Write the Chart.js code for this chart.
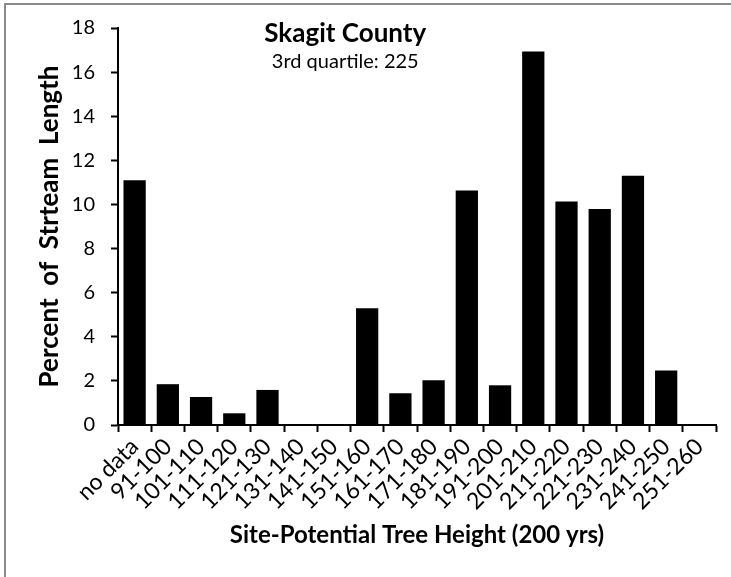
<!DOCTYPE html>
<html>
<head>
<meta charset="utf-8">
<title>Skagit County</title>
<script src="https://cdn.jsdelivr.net/npm/chart.js@4.4.1/dist/chart.umd.min.js"></script>
<style>
    html, body { margin: 0; padding: 0; background: #fff; overflow: hidden; }
    #wrap { position: relative; width: 731px; height: 577px; }
    #frame { position: absolute; left: 4px; top: 3px; width: 800px; height: 650px;
             border-left: 2px solid #8a8a8a; border-top: 2px solid #8a8a8a; pointer-events: none; }
</style>
</head>
<body>
<div id="wrap">
    <canvas id="heightChart" width="731" height="577"></canvas>
    <div id="frame"></div>
</div>
<script>
var categories = ['no data', '91-100', '101-110', '111-120', '121-130', '131-140', '141-150',
    '151-160', '161-170', '171-180', '181-190', '191-200', '201-210', '211-220',
    '221-230', '231-240', '241-250', '251-260'];
var percentValues = [11.1, 1.85, 1.27, 0.53, 1.59, 0, 0, 5.29, 1.44, 2.03, 10.63, 1.8,
    16.94, 10.13, 9.79, 11.3, 2.47, 0];
var yTicks = [0, 2, 4, 6, 8, 10, 12, 14, 16, 18];

var fontFamily = 'Lato, "Open Sans", sans-serif';

// heading sits inside the plot, over the empty middle bins
var headingPlugin = {
    id: 'heading',
    afterDraw: function(chart) {
        var ctx = chart.ctx;
        var area = chart.chartArea;
        var x = area.left + (area.right - area.left) * 0.38;
        ctx.save();
        ctx.fillStyle = '#000';
        ctx.textAlign = 'center';
        ctx.textBaseline = 'middle';
        ctx.font = 'bold 26px ' + fontFamily;
        ctx.fillText('Skagit County', x, area.top + 6);
        ctx.font = '20px ' + fontFamily;
        ctx.fillText('3rd quartile: 225', x, area.top + 34);
        ctx.restore();
    }
};

var ctx = document.getElementById('heightChart');
var heightChart = new Chart(ctx, {
    type: 'bar',
    data: {
        labels: categories,
        datasets: [{
            data: percentValues,
            backgroundColor: '#000',
            borderWidth: 0,
            barPercentage: 0.67,
            categoryPercentage: 1
        }]
    },
    options: {
        responsive: false,
        animation: false,
        layout: {
            padding: { left: 0, top: 27, right: 15, bottom: 0 }
        },
        scales: {
            x: {
                grid: {
                    offset: true,
                    drawOnChartArea: false,
                    color: '#000',
                    tickLength: 7,
                    tickWidth: 2
                },
                border: { color: '#000', width: 2 },
                ticks: {
                    color: '#000',
                    font: { family: fontFamily, size: 23 },
                    maxRotation: 45,
                    minRotation: 45,
                    padding: 1,
                    autoSkip: false
                },
                title: {
                    display: true,
                    text: 'Site-Potential Tree Height (200 yrs)',
                    color: '#000',
                    font: { family: fontFamily, size: 24, weight: 'bold' },
                    padding: { top: 0, bottom: 27 }
                },
                afterFit: function(scale) {
                    scale.height = 152;
                }
            },
            y: {
                min: 0,
                max: 18,
                afterBuildTicks: function(scale) {
                    scale.ticks = yTicks.map(function(v) { return { value: v }; });
                },
                grid: {
                    drawOnChartArea: false,
                    color: '#000',
                    tickLength: 7,
                    tickWidth: 2
                },
                border: { color: '#000', width: 2 },
                ticks: {
                    color: '#000',
                    font: { family: fontFamily, size: 20 },
                    padding: 16
                },
                title: {
                    display: true,
                    text: 'Percent  of  Strteam  Length',
                    color: '#000',
                    font: { family: fontFamily, size: 26, weight: 'bold' },
                    padding: { top: 34, bottom: 0 }
                },
                afterFit: function(scale) {
                    scale.width = 118;
                }
            }
        },
        plugins: {
            legend: { display: false },
            tooltip: { enabled: false }
        }
    },
    plugins: [headingPlugin]
});
</script>
</body>
</html>
